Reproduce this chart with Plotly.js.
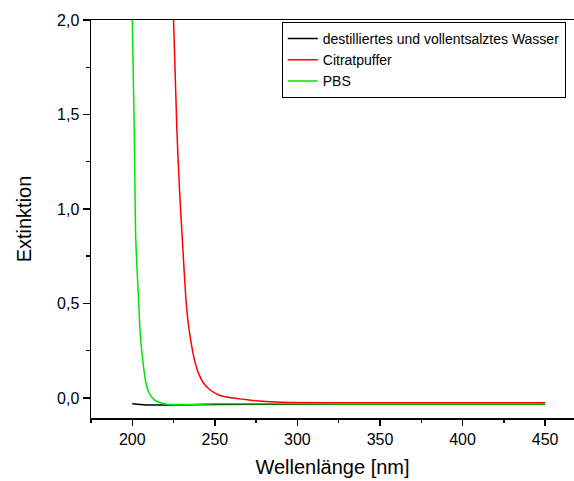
<!DOCTYPE html>
<html>
<head>
<meta charset="utf-8">
<script src="https://cdn.plot.ly/plotly-3.0.1.min.js"></script>
<style>html,body{margin:0;padding:0;background:#fff;}#chart{width:574px;height:481px;}</style>
</head>
<body>
<div id="chart"></div>
<script>
// Series names
var seriesNames = ["destilliertes und vollentsalztes Wasser", "Citratpuffer", "PBS"];
var seriesColors = ["#000000", "#ff0000", "#00e600"];

// destilliertes und vollentsalztes Wasser
var wasserX = [200, 205, 211, 220, 250, 300, 350, 400, 450];
var wasserY = [-0.030, -0.034, -0.037, -0.037, -0.034, -0.033, -0.033, -0.033, -0.033];

// Citratpuffer
var citratX = [225, 227, 228.5, 230.1, 231.5, 232.5, 233.7, 235.3, 237.7, 240.1, 243.2, 247.2, 252.3, 257, 262.3, 270, 276.4, 290.5, 320, 360, 400, 450];
var citratY = [2.0, 1.42, 1.12, 0.87, 0.66, 0.52, 0.41, 0.31, 0.20, 0.13, 0.078, 0.042, 0.016, 0.005, -0.002, -0.010, -0.016, -0.023, -0.025, -0.025, -0.025, -0.025];

// PBS
var pbsX = [200, 201.2, 202, 203, 203.8, 204.8, 206.8, 208.3, 210.3, 213.5, 218, 222, 230, 240, 250, 270, 300, 350, 400, 450];
var pbsY = [2.0, 1.42, 0.87, 0.66, 0.52, 0.34, 0.166, 0.078, 0.025, -0.011, -0.028, -0.034, -0.035, -0.033, -0.030, -0.031, -0.031, -0.032, -0.032, -0.032];

// Axis ticks
var xTickVals = [200, 250, 300, 350, 400, 450];
var yTickVals = [0, 0.5, 1.0, 1.5, 2.0];
var yTickText = ["0,0", "0,5", "1,0", "1,5", "2,0"];

var xs = [wasserX, citratX, pbsX];
var ys = [wasserY, citratY, pbsY];

var traces = seriesNames.map(function (n, i) {
  return {
    x: xs[i], y: ys[i], name: n, type: "scatter", mode: "lines",
    line: {color: seriesColors[i], width: 1.5, shape: "spline", smoothing: 0.6}
  };
});

var font = "Liberation Sans, Arial, sans-serif";

var layout = {
  width: 574, height: 481,
  margin: {l: 91, r: 0, t: 20, b: 63},
  paper_bgcolor: "#fff", plot_bgcolor: "#fff",
  font: {family: font, color: "#000"},
  showlegend: true,
  legend: {
    x: 0.395, y: 0.995, xanchor: "left", yanchor: "top",
    bordercolor: "#000", borderwidth: 1, bgcolor: "#fff",
    font: {family: font, size: 14, color: "#000"},
    tracegroupgap: 0
  },
  xaxis: {
    range: [175, 467.5],
    tickvals: xTickVals,
    ticks: "outside", ticklen: 6, tickwidth: 1.5, tickcolor: "#000",
    minor: {dtick: 25, tick0: 0, ticks: "outside", ticklen: 3, tickwidth: 1.5, tickcolor: "#000"},
    showline: true, linecolor: "#000", linewidth: 1.5, mirror: true,
    showgrid: false, zeroline: false,
    tickfont: {family: font, size: 16, color: "#000"},
    title: {text: "Wellenlänge [nm]", font: {family: font, size: 20, color: "#000"}, standoff: 13}
  },
  yaxis: {
    range: [-0.106, 2.0],
    tickvals: yTickVals, ticktext: yTickText,
    ticks: "outside", ticklen: 7, tickwidth: 1.5, tickcolor: "#000",
    minor: {dtick: 0.25, tick0: 0, ticks: "outside", ticklen: 4, tickwidth: 1.5, tickcolor: "#000"},
    showline: true, linecolor: "#000", linewidth: 1.5, mirror: false,
    showgrid: false, zeroline: false,
    tickfont: {family: font, size: 16, color: "#000"},
    title: {text: "Extinktion", font: {family: font, size: 20, color: "#000"}, standoff: 20}
  }
};

Plotly.newPlot("chart", traces, layout, {displayModeBar: false, staticPlot: true});
</script>
</body>
</html>
